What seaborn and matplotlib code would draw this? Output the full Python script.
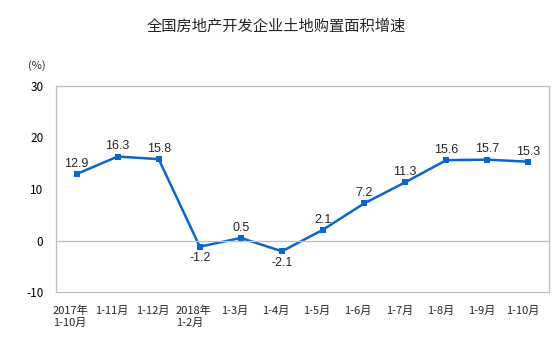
import numpy as np
import matplotlib
matplotlib.use("Agg")
import matplotlib.pyplot as plt
import seaborn as sns
import pandas as pd
from matplotlib.transforms import ScaledTranslation

categories = ["2017年\n1-10月", "1-11月", "1-12月", "2018年\n1-2月", "1-3月", "1-4月",
              "1-5月", "1-6月", "1-7月", "1-8月", "1-9月", "1-10月"]
values = [12.9, 16.3, 15.8, -1.2, 0.5, -2.1, 2.1, 7.2, 11.3, 15.6, 15.7, 15.3]
below = [False, False, False, True, False, True, False, False, False, False, False, False]
yticks = [-10, 0, 10, 20, 30]

sns.set_theme(style="white")
plt.rcParams['font.family'] = ['Noto Sans CJK SC', 'DejaVu Sans']

fig = plt.figure(figsize=(5.54, 3.39), dpi=100)
ax = fig.add_axes([56/554, 1-292/339, (549-56)/554, (292-86)/339])

df = pd.DataFrame({"x": np.arange(len(values)), "v": values})
color = "#0a66cc"
sns.lineplot(data=df, x="x", y="v", ax=ax, color=color, lw=1.8, marker="s",
             markersize=5, markeredgewidth=0, legend=False)

ax.set_xlim(-0.5, len(values)-0.5)
ax.set_ylim(-10, 30)
ax.set_yticks(yticks)
ax.set_yticklabels([str(t) for t in yticks], fontsize=8.5, color="black")
ax.tick_params(axis='y', direction='out', length=4, color='#BFBFBF', width=0.8, pad=5)

gray = '#BFBFBF'
for s in ['left', 'right', 'top']:
    ax.spines[s].set_color(gray)
    ax.spines[s].set_linewidth(0.9)
ax.spines['bottom'].set_position(('data', 0))
ax.spines['bottom'].set_color(gray)
ax.spines['bottom'].set_linewidth(0.9)
ax.set_xticks(np.arange(0.5, len(values)-0.5, 1))
ax.tick_params(axis='x', direction='in', length=4, color=gray, width=0.8, labelbottom=False)
ax.set_xlabel("")
ax.set_ylabel("")

sec = ax.secondary_xaxis('bottom')
sec.spines['bottom'].set_color(gray)
sec.spines['bottom'].set_linewidth(0.9)
sec.set_xticks(np.arange(len(values)))
sec.set_xticklabels(categories, fontsize=8, multialignment='left', va='top')
sec.tick_params(length=0, pad=10)
off = ScaledTranslation(-6/100, 0, fig.dpi_scale_trans)
for lab in sec.get_xticklabels():
    lab.set_transform(lab.get_transform() + off)

for i, (v, b) in enumerate(zip(values, below)):
    if b:
        ax.annotate(f"{v:.1f}", (i, v), xytext=(0, -4), textcoords='offset points',
                    ha='center', va='top', fontsize=9, family='Liberation Sans')
    else:
        ax.annotate(f"{v:.1f}", (i, v), xytext=(0, 3), textcoords='offset points',
                    ha='center', va='bottom', fontsize=9, family='Liberation Sans')

fig.text(276/554, 1-26/339, "全国房地产开发企业土地购置面积增速", ha='center', va='center', fontsize=11)
fig.text(37/554, 1-66/339, "(%)", ha='center', va='center', fontsize=8)

fig.savefig("out.png", dpi=100)
